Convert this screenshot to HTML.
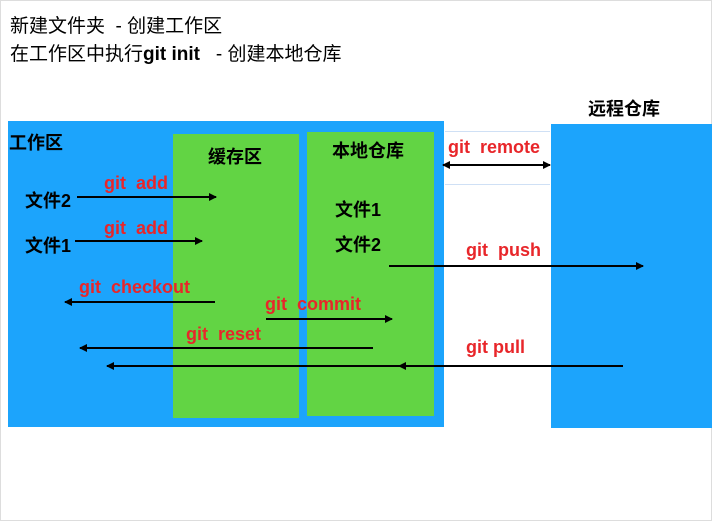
<!DOCTYPE html>
<html><head><meta charset="utf-8"><style>
body{margin:0;width:712px;height:521px;background:#fff;position:relative;overflow:hidden;font-family:"Liberation Sans","Noto Sans CJK SC",sans-serif;}
.a{position:absolute}
.t{position:absolute;font-weight:bold;white-space:nowrap}
.k{color:#000;font-size:18px}
.r{color:#e8262a;font-size:18px}
</style></head><body>
<div class="a" style="left:0;top:0;width:710px;height:519px;border:1px solid #ddd"></div>
<div class="t k" style="left:10px;top:11px;font-size:19px;font-weight:normal">新建文件夹 &nbsp;- 创建工作区</div>
<div class="t k" style="left:10px;top:39px;font-size:19px;font-weight:normal">在工作区中执行<b>git init</b> &nbsp; - 创建本地仓库</div>
<div class="a" style="left:8px;top:121px;width:436px;height:306px;background:#1ca4fc"></div>
<div class="a" style="left:173px;top:134px;width:126px;height:284px;background:#62d444"></div>
<div class="a" style="left:307px;top:132px;width:127px;height:284px;background:#62d444"></div>
<div class="a" style="left:551px;top:124px;width:161px;height:304px;background:#1ca4fc"></div>
<div class="a" style="left:445px;top:131px;width:105px;height:52px;border-top:1px solid #cfe0f5;border-bottom:1px solid #cfe0f5"></div>
<div class="t k" style="left:9px;top:129px">工作区</div>
<div class="t k" style="left:208px;top:143px">缓存区</div>
<div class="t k" style="left:332px;top:137px">本地仓库</div>
<div class="t k" style="left:588px;top:95px">远程仓库</div>
<div class="t k" style="left:25px;top:187px">文件2</div>
<div class="t k" style="left:25px;top:232px">文件1</div>
<div class="t k" style="left:335px;top:196px">文件1</div>
<div class="t k" style="left:335px;top:231px">文件2</div>
<div class="t r" style="left:104px;top:173px">git &nbsp;add</div>
<div class="t r" style="left:104px;top:218px">git &nbsp;add</div>
<div class="t r" style="left:79px;top:277px">git &nbsp;checkout</div>
<div class="t r" style="left:265px;top:294px">git &nbsp;commit</div>
<div class="t r" style="left:186px;top:324px">git &nbsp;reset</div>
<div class="t r" style="left:448px;top:137px">git &nbsp;remote</div>
<div class="t r" style="left:466px;top:240px">git &nbsp;push</div>
<div class="t r" style="left:466px;top:337px">git pull</div>
<svg class="a" style="left:0;top:0" width="712" height="521">
<defs><marker id="m" markerWidth="8" markerHeight="8" refX="7" refY="4" orient="auto" markerUnits="userSpaceOnUse"><path d="M0,0L8,4L0,8z" fill="#000"/></marker>
<marker id="s" markerWidth="8" markerHeight="8" refX="1" refY="4" orient="auto" markerUnits="userSpaceOnUse"><path d="M8,0L0,4L8,8z" fill="#000"/></marker></defs>
<g stroke="#000" stroke-width="2" fill="none">
<line x1="443" y1="165" x2="550" y2="165" marker-end="url(#m)" marker-start="url(#s)"/>
<line x1="77" y1="197" x2="216" y2="197" marker-end="url(#m)"/>
<line x1="75" y1="241" x2="202" y2="241" marker-end="url(#m)"/>
<line x1="389" y1="266" x2="643" y2="266" marker-end="url(#m)"/>
<line x1="215" y1="302" x2="65" y2="302" marker-end="url(#m)"/>
<line x1="266" y1="319" x2="392" y2="319" marker-end="url(#m)"/>
<line x1="373" y1="348" x2="80" y2="348" marker-end="url(#m)"/>
<line x1="623" y1="366" x2="107" y2="366" marker-end="url(#m)"/>
</g>
<path d="M406,362L398,366L406,370z" fill="#000"/>
</svg>
</body></html>
